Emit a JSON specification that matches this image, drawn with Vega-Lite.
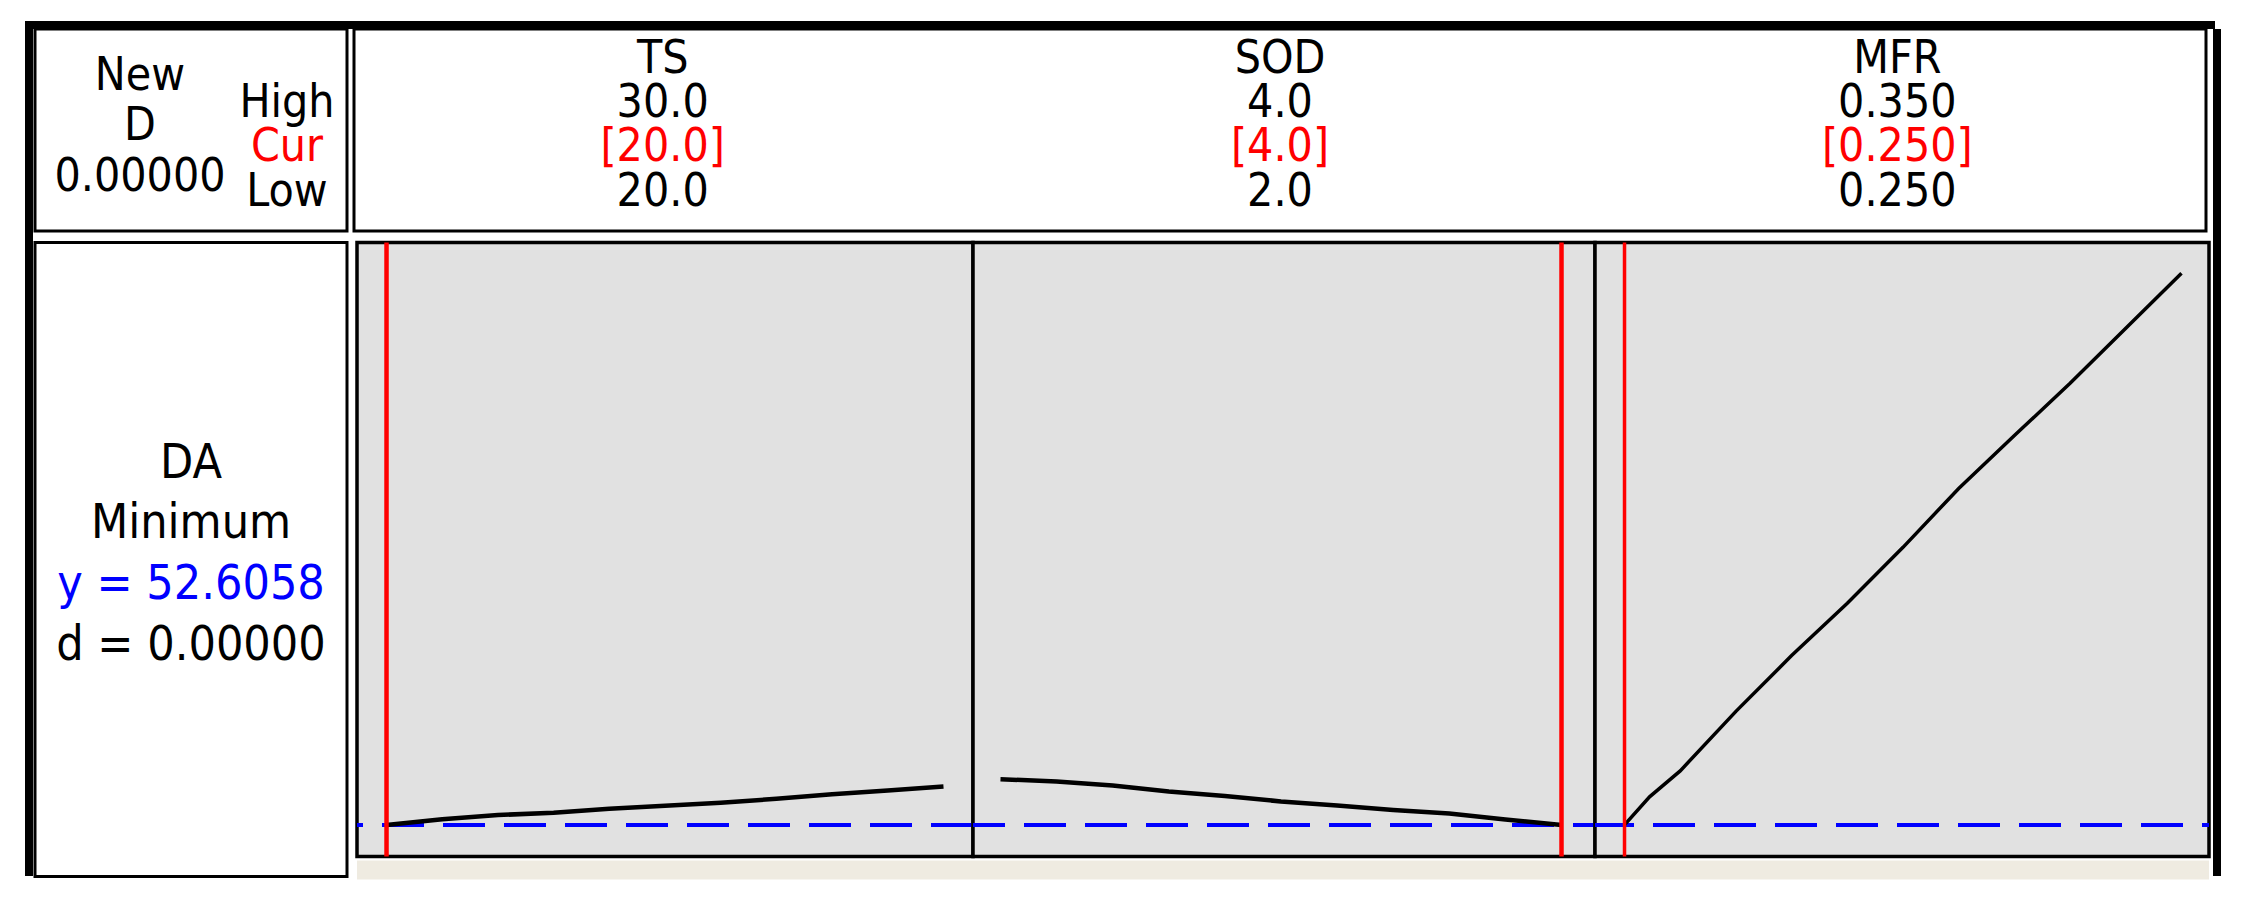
{
  "$schema": "https://vega.github.io/schema/vega-lite/v6.json",
  "background": "white",
  "padding": {"left": 25, "top": 21, "right": 0, "bottom": 0},
  "config": {
    "text": {"font": "DejaVu Sans Condensed, DejaVu Sans", "fontSize": 48, "baseline": "middle", "align": "center"}
  },
  "datasets": {
    "curves": [
      {"factor": "TS", "x": 20, "y": 52.61}, {"factor": "TS", "x": 21, "y": 53.19}, {"factor": "TS", "x": 22, "y": 53.6},
      {"factor": "TS", "x": 23, "y": 53.84}, {"factor": "TS", "x": 24, "y": 54.22}, {"factor": "TS", "x": 25, "y": 54.52},
      {"factor": "TS", "x": 26, "y": 54.84}, {"factor": "TS", "x": 27, "y": 55.22}, {"factor": "TS", "x": 28, "y": 55.67},
      {"factor": "TS", "x": 29, "y": 56.06}, {"factor": "TS", "x": 30, "y": 56.46},
      {"factor": "SOD", "x": 2.0, "y": 57.19}, {"factor": "SOD", "x": 2.2, "y": 56.96}, {"factor": "SOD", "x": 2.4, "y": 56.56},
      {"factor": "SOD", "x": 2.6, "y": 55.96}, {"factor": "SOD", "x": 2.8, "y": 55.51}, {"factor": "SOD", "x": 3.0, "y": 54.96},
      {"factor": "SOD", "x": 3.2, "y": 54.56}, {"factor": "SOD", "x": 3.4, "y": 54.11}, {"factor": "SOD", "x": 3.6, "y": 53.76},
      {"factor": "SOD", "x": 3.8, "y": 53.16}, {"factor": "SOD", "x": 4.0, "y": 52.61},
      {"factor": "MFR", "x": 0.25, "y": 52.61}, {"factor": "MFR", "x": 0.2545, "y": 55.42}, {"factor": "MFR", "x": 0.26, "y": 58.02},
      {"factor": "MFR", "x": 0.27, "y": 63.97}, {"factor": "MFR", "x": 0.28, "y": 69.55}, {"factor": "MFR", "x": 0.29, "y": 74.79},
      {"factor": "MFR", "x": 0.30, "y": 80.37}, {"factor": "MFR", "x": 0.31, "y": 86.26}, {"factor": "MFR", "x": 0.32, "y": 91.55},
      {"factor": "MFR", "x": 0.33, "y": 96.77}, {"factor": "MFR", "x": 0.34, "y": 102.27}, {"factor": "MFR", "x": 0.35, "y": 107.79}
    ],
    "settings": [
      {"factor": "TS", "cur": 20.0},
      {"factor": "SOD", "cur": 4.0},
      {"factor": "MFR", "cur": 0.25}
    ],
    "target": [{"y": 52.6058}],
    "header": [
      {"factor": "TS", "row": "name", "label": "TS"},
      {"factor": "TS", "row": "High", "label": "30.0"},
      {"factor": "TS", "row": "Cur", "label": "[20.0]"},
      {"factor": "TS", "row": "Low", "label": "20.0"},
      {"factor": "SOD", "row": "name", "label": "SOD"},
      {"factor": "SOD", "row": "High", "label": "4.0"},
      {"factor": "SOD", "row": "Cur", "label": "[4.0]"},
      {"factor": "SOD", "row": "Low", "label": "2.0"},
      {"factor": "MFR", "row": "name", "label": "MFR"},
      {"factor": "MFR", "row": "High", "label": "0.350"},
      {"factor": "MFR", "row": "Cur", "label": "[0.250]"},
      {"factor": "MFR", "row": "Low", "label": "0.250"}
    ],
    "newD": [
      {"col": "D", "line": "New", "label": "New"},
      {"col": "D", "line": "D", "label": "D"},
      {"col": "D", "line": "val", "label": "0.00000"}
    ],
    "hcl": [
      {"col": "HL", "row": "High", "label": "High"},
      {"col": "HL", "row": "Cur", "label": "Cur"},
      {"col": "HL", "row": "Low", "label": "Low"}
    ],
    "resp": [
      {"line": "DA", "label": "DA"},
      {"line": "goal", "label": "Minimum"},
      {"line": "y", "label": "y = 52.6058"},
      {"line": "d", "label": "d = 0.00000"}
    ],
    "fill": [{"part": "frame"}]
  },
  "spacing": 0,
  "bounds": "flush",
  "vconcat": [
    {
      "width": 2190, "height": 8,
      "data": {"name": "fill"},
      "mark": {"type": "rect", "color": "black"},
      "encoding": {},
      "view": {"stroke": null}
    },
    {
      "spacing": 0,
      "hconcat": [
        {
          "width": 8, "height": 847,
          "data": {"name": "fill"},
          "mark": {"type": "rect", "color": "black"},
          "encoding": {},
          "view": {"stroke": null}
        },
        {
          "spacing": 5.5,
          "vconcat": [
            {
              "spacing": 7,
              "bounds": "flush",
              "hconcat": [
                {
                  "width": 312, "height": 202,
                  "view": {"fill": "white", "stroke": "black", "strokeWidth": 3},
                  "layer": [
                    {
                      "data": {"name": "newD"},
                      "mark": {"type": "text", "fontSize": 46},
                      "encoding": {
                        "x": {"field": "col", "type": "nominal", "scale": {"domain": ["D", "HL"], "range": [105, 252], "padding": 0}, "axis": null},
                        "y": {"field": "line", "type": "nominal", "scale": {"domain": ["New", "D", "val"], "range": [46.5, 147.5], "padding": 0}, "axis": null},
                        "text": {"field": "label"},
                        "color": {"value": "black"}
                      }
                    },
                    {
                      "data": {"name": "hcl"},
                      "mark": {"type": "text", "fontSize": 46},
                      "encoding": {
                        "x": {"field": "col", "type": "nominal", "scale": {"domain": ["D", "HL"], "range": [105, 252], "padding": 0}, "axis": null},
                        "y": {"field": "row", "type": "nominal", "scale": {"domain": ["name", "High", "Cur", "Low"], "range": [29.5, 162.5], "padding": 0}, "axis": null},
                        "text": {"field": "label"},
                        "color": {"condition": {"test": "datum.row === 'Cur'", "value": "#ff0000"}, "value": "#000000"}
                      }
                    }
                  ],
                  "resolve": {"scale": {"y": "independent"}}
                },
                {
                  "width": 1852, "height": 202,
                  "view": {"fill": "white", "stroke": "black", "strokeWidth": 3},
                  "data": {"name": "header"},
                  "mark": {"type": "text", "fontSize": 46},
                  "encoding": {
                    "x": {"field": "factor", "type": "nominal", "scale": {"domain": ["TS", "SOD", "MFR"]}, "axis": null},
                    "y": {"field": "row", "type": "nominal", "scale": {"domain": ["name", "High", "Cur", "Low"], "range": [29.5, 162.5], "padding": 0}, "axis": null},
                    "text": {"field": "label"},
                    "color": {"condition": {"test": "datum.row === 'Cur'", "value": "#ff0000"}, "value": "#000000"}
                  }
                }
              ]
            },
            {
              "spacing": 4,
              "hconcat": [
                {
                  "width": 312, "height": 634,
                  "view": {"fill": "white", "stroke": "black", "strokeWidth": 3},
                  "data": {"name": "resp"},
                  "mark": {"type": "text"},
                  "encoding": {
                    "y": {"field": "line", "type": "nominal", "scale": {"domain": ["DA", "goal", "y", "d"], "range": [221, 403], "padding": 0}, "axis": null},
                    "text": {"field": "label"},
                    "color": {"condition": {"test": "datum.line === 'y'", "value": "#0000ff"}, "value": "#000000"}
                  }
                },
                {
                  "spacing": 0,
                  "vconcat": [
                    {
                      "spacing": 0,
                      "bounds": "flush",
                      "hconcat": [
                        {
                          "width": 616, "height": 614,
                          "view": {"fill": "#e1e1e1", "stroke": "black", "strokeWidth": 3.5},
                          "layer": [
                            {
                              "data": {"name": "target"},
                              "mark": {"type": "rule", "color": "#0000ff", "strokeWidth": 4, "strokeDash": [42, 19]},
                              "encoding": {"y": {"field": "y", "type": "quantitative", "scale": {"domain": [49.456, 110.856], "nice": false, "zero": false}, "axis": null}}
                            },
                            {
                              "data": {"name": "curves"},
                              "transform": [{"filter": "datum.factor === 'TS'"}],
                              "mark": {"type": "line", "color": "black", "strokeWidth": 4.5},
                              "encoding": {
                                "x": {"field": "x", "type": "quantitative", "scale": {"domain": [19.47, 30.53], "nice": false, "zero": false}, "axis": null},
                                "y": {"field": "y", "type": "quantitative", "scale": {"domain": [49.456, 110.856], "nice": false, "zero": false}, "axis": null}
                              }
                            },
                            {
                              "data": {"name": "settings"},
                              "transform": [{"filter": "datum.factor === 'TS'"}],
                              "mark": {"type": "rule", "color": "#ff0000", "strokeWidth": 4.5},
                              "encoding": {"x": {"field": "cur", "type": "quantitative", "scale": {"domain": [19.47, 30.53], "nice": false, "zero": false}, "axis": null}}
                            }
                          ]
                        },
                        {
                          "width": 622, "height": 614,
                          "view": {"fill": "#e1e1e1", "stroke": "black", "strokeWidth": 3.5},
                          "layer": [
                            {
                              "data": {"name": "target"},
                              "mark": {"type": "rule", "color": "#0000ff", "strokeWidth": 4, "strokeDash": [42, 19], "strokeDashOffset": 20},
                              "encoding": {"y": {"field": "y", "type": "quantitative", "scale": {"domain": [49.456, 110.856], "nice": false, "zero": false}, "axis": null}}
                            },
                            {
                              "data": {"name": "curves"},
                              "transform": [{"filter": "datum.factor === 'SOD'"}],
                              "mark": {"type": "line", "color": "black", "strokeWidth": 4.5},
                              "encoding": {
                                "x": {"field": "x", "type": "quantitative", "scale": {"domain": [1.902, 4.1194], "nice": false, "zero": false}, "axis": null},
                                "y": {"field": "y", "type": "quantitative", "scale": {"domain": [49.456, 110.856], "nice": false, "zero": false}, "axis": null}
                              }
                            },
                            {
                              "data": {"name": "settings"},
                              "transform": [{"filter": "datum.factor === 'SOD'"}],
                              "mark": {"type": "rule", "color": "#ff0000", "strokeWidth": 4.5},
                              "encoding": {"x": {"field": "cur", "type": "quantitative", "scale": {"domain": [1.902, 4.1194], "nice": false, "zero": false}, "axis": null}}
                            }
                          ]
                        },
                        {
                          "width": 614, "height": 614,
                          "view": {"fill": "#e1e1e1", "stroke": "black", "strokeWidth": 3.5},
                          "layer": [
                            {
                              "data": {"name": "target"},
                              "mark": {"type": "rule", "color": "#0000ff", "strokeWidth": 4, "strokeDash": [42, 19], "strokeDashOffset": 35},
                              "encoding": {"y": {"field": "y", "type": "quantitative", "scale": {"domain": [49.456, 110.856], "nice": false, "zero": false}, "axis": null}}
                            },
                            {
                              "data": {"name": "curves"},
                              "transform": [{"filter": "datum.factor === 'MFR'"}],
                              "mark": {"type": "line", "color": "black", "strokeWidth": 3.5},
                              "encoding": {
                                "x": {"field": "x", "type": "quantitative", "scale": {"domain": [0.2447, 0.35494], "nice": false, "zero": false}, "axis": null},
                                "y": {"field": "y", "type": "quantitative", "scale": {"domain": [49.456, 110.856], "nice": false, "zero": false}, "axis": null}
                              }
                            },
                            {
                              "data": {"name": "settings"},
                              "transform": [{"filter": "datum.factor === 'MFR'"}],
                              "mark": {"type": "rule", "color": "#ff0000", "strokeWidth": 3.5},
                              "encoding": {"x": {"field": "cur", "type": "quantitative", "scale": {"domain": [0.2447, 0.35494], "nice": false, "zero": false}, "axis": null}}
                            }
                          ]
                        }
                      ]
                    },
                    {
                      "width": 1852, "height": 19,
                      "data": {"name": "fill"},
                      "mark": {"type": "rect", "color": "#efebe1"},
                      "encoding": {},
                      "view": {"stroke": null}
                    }
                  ]
                }
              ]
            }
          ]
        },
        {
          "width": 8, "height": 847,
          "data": {"name": "fill"},
          "mark": {"type": "rect", "color": "black"},
          "encoding": {},
          "view": {"stroke": null}
        }
      ]
    }
  ]
}
